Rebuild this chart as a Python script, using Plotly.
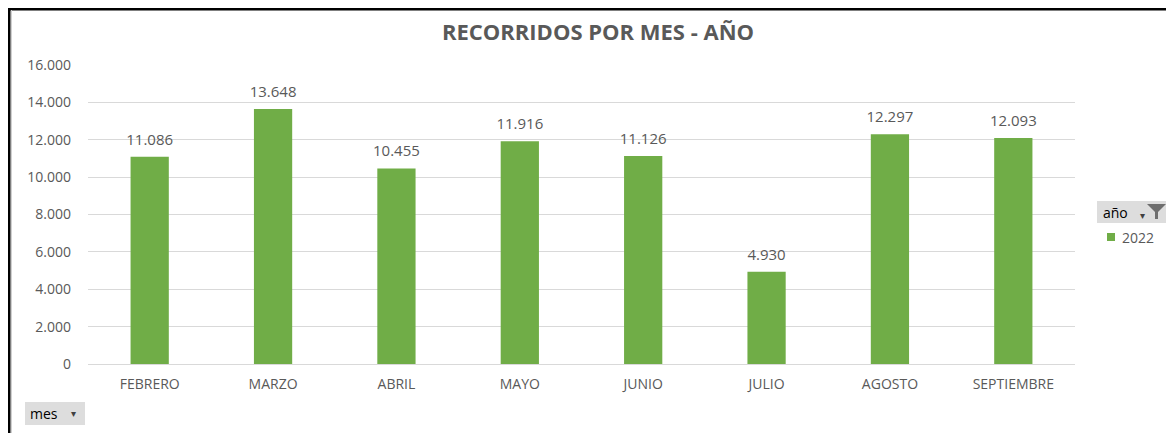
"""Recorridos por mes - año: pivot-chart style bar chart."""
import plotly.graph_objects as go

meses = ["FEBRERO", "MARZO", "ABRIL", "MAYO", "JUNIO", "JULIO", "AGOSTO", "SEPTIEMBRE"]
recorridos_2022 = [11086, 13648, 10455, 11916, 11126, 4930, 12297, 12093]
y_ticks = [0, 2000, 4000, 6000, 8000, 10000, 12000, 14000, 16000]

COLOR_BAR = "#70AD47"
COLOR_TEXT = "#595959"
COLOR_GRID = "#D9D9D9"
COLOR_BUTTON = "#DDDDDD"
FONT = "Open Sans, Liberation Sans, sans-serif"

# page offset: the html body has an 8px margin
OFF = 8
PAGE_W, PAGE_H = 1174, 433
W, H = PAGE_W - OFF, PAGE_H - OFF
# plot area in page pixels
PLOT_L, PLOT_R, PLOT_T, PLOT_B = 88, 1075, 65, 364


def px_x(px: float) -> float:
    return (px - PLOT_L) / (PLOT_R - PLOT_L)


def px_y(py: float) -> float:
    return (PLOT_B - py) / (PLOT_B - PLOT_T)


fig = go.Figure()
fig.add_trace(go.Bar(
    x=meses,
    y=recorridos_2022,
    name="2022",
    marker=dict(color=COLOR_BAR, line=dict(width=0)),
    showlegend=False,
))
# data labels: invisible markers give the label some air above the bar top
fig.add_trace(go.Scatter(
    x=meses,
    y=recorridos_2022,
    mode="markers+text",
    marker=dict(size=12, opacity=0),
    texttemplate="%{y:,}",
    textposition="top center",
    textfont=dict(family=FONT, size=15, color=COLOR_TEXT),
    cliponaxis=False,
    hoverinfo="skip",
    showlegend=False,
))

shapes = [
    # outer frame (top and left edges visible in screenshot)
    dict(type="line", xref="paper", yref="paper", x0=px_x(OFF), x1=px_x(PAGE_W + 5),
         y0=px_y(OFF + 1), y1=px_y(OFF + 1), line=dict(color="#000000", width=3)),
    dict(type="line", xref="paper", yref="paper", x0=px_x(OFF + 1), x1=px_x(OFF + 1),
         y0=px_y(OFF), y1=px_y(PAGE_H + 5), line=dict(color="#000000", width=3)),
    dict(type="line", xref="paper", yref="paper", x0=px_x(11.5), x1=px_x(11.5),
         y0=px_y(10), y1=px_y(PAGE_H + 5), line=dict(color="#D0D0D0", width=1)),
    # "año" field button
    dict(type="rect", xref="paper", yref="paper", x0=px_x(1097), x1=px_x(1171),
         y0=px_y(201), y1=px_y(223), fillcolor=COLOR_BUTTON, line=dict(width=0), layer="below"),
    # filter funnel icon
    dict(type="path", xref="paper", yref="paper",
         path=(f"M {px_x(1147)} {px_y(204)} L {px_x(1166)} {px_y(204)} L {px_x(1158)} {px_y(212)} "
               f"L {px_x(1158)} {px_y(219)} L {px_x(1155)} {px_y(219)} L {px_x(1155)} {px_y(212)} Z"),
         fillcolor="#6E6E6E", line=dict(width=0)),
    # "mes" field button
    dict(type="rect", xref="paper", yref="paper", x0=px_x(25), x1=px_x(85),
         y0=px_y(402), y1=px_y(425), fillcolor=COLOR_BUTTON, line=dict(width=0), layer="below"),
    # legend swatch for 2022
    dict(type="rect", xref="paper", yref="paper", x0=px_x(1107), x1=px_x(1115),
         y0=px_y(233), y1=px_y(241), fillcolor=COLOR_BAR, line=dict(width=0)),
]

annotations = [
    dict(text="año", xref="paper", yref="paper", x=px_x(1101), y=px_y(212),
         xanchor="left", yanchor="middle", showarrow=False,
         font=dict(family=FONT, size=14, color="#000000")),
    dict(text="▾", xref="paper", yref="paper", x=px_x(1142), y=px_y(215),
         xanchor="center", yanchor="middle", showarrow=False,
         font=dict(family=FONT, size=10, color="#404040")),
    dict(text="2022", xref="paper", yref="paper",
         x=px_x(1120), y=px_y(237), xanchor="left", yanchor="middle", showarrow=False,
         font=dict(family=FONT, size=14, color=COLOR_TEXT)),
    dict(text="mes", xref="paper", yref="paper", x=px_x(28), y=px_y(413),
         xanchor="left", yanchor="middle", showarrow=False,
         font=dict(family=FONT, size=14, color="#000000")),
    dict(text="▾", xref="paper", yref="paper", x=px_x(73), y=px_y(413),
         xanchor="center", yanchor="middle", showarrow=False,
         font=dict(family=FONT, size=10, color="#404040")),
]

fig.update_layout(
    width=W,
    height=H,
    separators=",.",
    paper_bgcolor="#FFFFFF",
    plot_bgcolor="#FFFFFF",
    margin=dict(l=PLOT_L - OFF, r=PAGE_W - PLOT_R, t=PLOT_T - OFF, b=PAGE_H - PLOT_B),
    bargap=0.69,
    title=dict(
        text="<b>RECORRIDOS POR MES - AÑO</b>",
        x=(598 - OFF) / W, xanchor="center",
        y=1 - (32 - OFF) / H, yanchor="middle", yref="container",
        font=dict(family=FONT, size=22, color=COLOR_TEXT),
    ),
    xaxis=dict(
        showgrid=False,
        showline=False,
        ticks="",
        ticklabelstandoff=10,
        tickfont=dict(family=FONT, size=14, color=COLOR_TEXT),
    ),
    yaxis=dict(
        range=[0, 16000],
        tickvals=y_ticks,
        tickformat=",d",
        showgrid=True,
        gridcolor=COLOR_GRID,
        gridwidth=1,
        zeroline=True,
        zerolinecolor=COLOR_GRID,
        zerolinewidth=1,
        showline=False,
        ticks="",
        ticklabelstandoff=16,
        tickfont=dict(family=FONT, size=14, color=COLOR_TEXT),
    ),
    shapes=shapes,
    annotations=annotations,
)

fig.write_html("out.html")
